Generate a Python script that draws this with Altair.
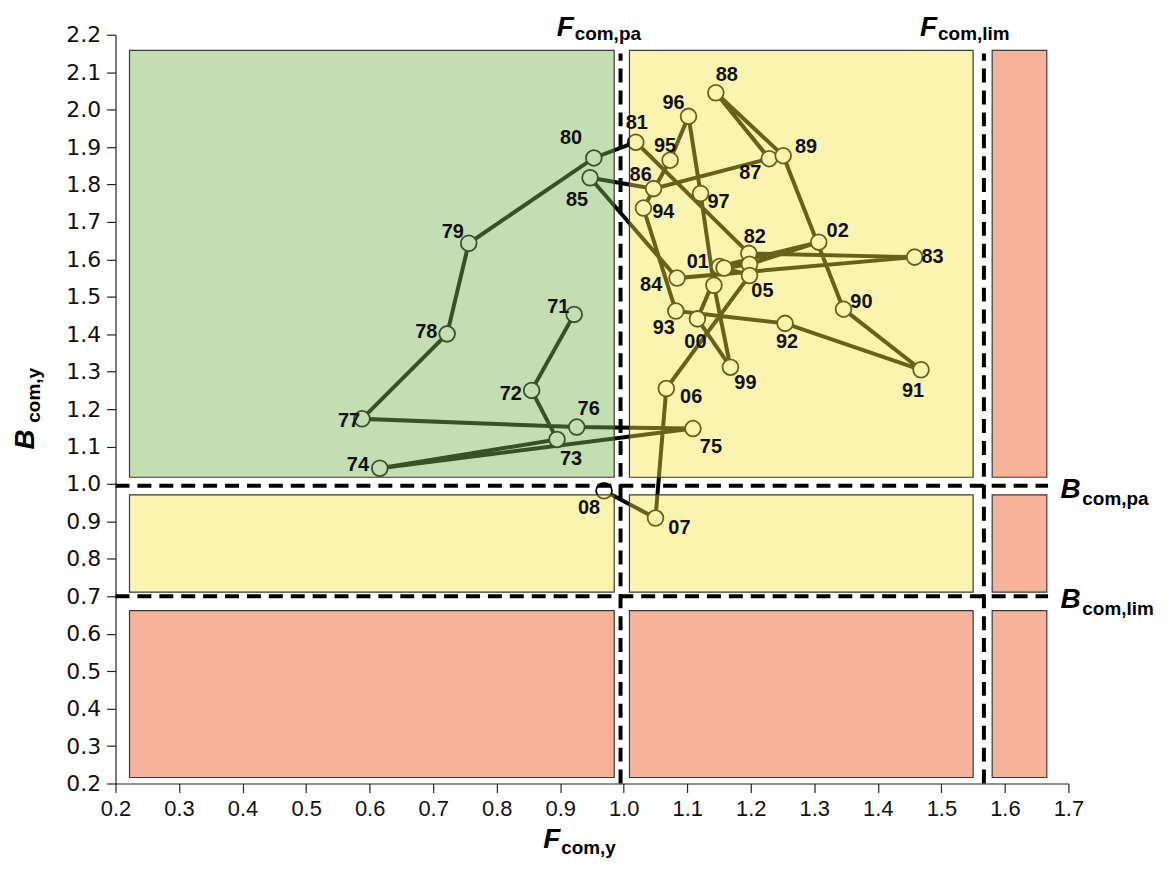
import altair as alt
import pandas as pd

# ---------------- data ----------------
years = ["71", "72", "73", "74", "75", "76", "77", "78", "79", "80",
         "81", "82", "83", "84", "85", "86", "87", "88", "89", "90",
         "91", "92", "93", "94", "95", "96", "97", "98", "99", "00",
         "01", "02", "03", "04", "05", "06", "07", "08"]
shown_label = [y not in ("98", "03", "04") for y in years]
f_com = [0.922, 0.855, 0.895, 0.616, 1.109, 0.926, 0.588, 0.722, 0.756, 0.953,
         1.019, 1.197, 1.458, 1.084, 0.947, 1.047, 1.229, 1.145, 1.251, 1.346,
         1.468, 1.254, 1.082, 1.031, 1.073, 1.102, 1.121, 1.142, 1.168, 1.116,
         1.151, 1.307, 1.198, 1.158, 1.198, 1.067, 1.050, 0.969]
b_com = [1.453, 1.250, 1.119, 1.042, 1.148, 1.152, 1.174, 1.401, 1.643, 1.871,
         1.913, 1.616, 1.606, 1.550, 1.818, 1.789, 1.869, 2.045, 1.877, 1.467,
         1.305, 1.429, 1.462, 1.737, 1.865, 1.982, 1.776, 1.531, 1.312, 1.441,
         1.581, 1.646, 1.587, 1.577, 1.557, 1.255, 0.909, 0.982]
# label placement offsets (pixels) relative to each point
label_dx = [-16, -21, 14, -22, 18, 12, -13, -21, -16, -23,
            1, 6, 18, -26, -13, -13, -19, 11, 23, 18,
            -8, 2, -12, 20, -5, -15, 18, 0, 15, -2,
            -22, 19, 0, 0, 13, 25, 24, -15]
label_dy = [-7, 4, 20, -3, 19, -18, 2, -2, -11, -20,
            -19, -16, 0, 7, 22, -14, 14, -18, -9, -7,
            21, 19, 17, 4, -14, -13, 9, 0, 16, 23,
            -4, -11, 0, 0, 16, 9, 10, 17]

# reference points
F_PA, F_LIM = 0.995, 1.567
B_PA, B_LIM = 0.995, 0.70

# zone rectangles (column and row extents)
col_edges = [(0.222, 0.985), (1.009, 1.550), (1.580, 1.666)]
row_edges = [(1.018, 2.158), (0.711, 0.971), (0.216, 0.662)]
zone_status = [["green", "yellow", "red"],
               ["yellow", "yellow", "red"],
               ["red", "red", "red"]]

x_ticks = [round(0.2 + 0.1 * i, 1) for i in range(16)]
y_ticks = [round(0.2 + 0.1 * i, 1) for i in range(21)]

# ---------------- layout ----------------
W, H = 957, 752
XD = [0.2, 1.7]
YD = [0.2, 2.2]
PX_X = W / (XD[1] - XD[0])
PX_Y = H / (YD[1] - YD[0])
FONT = "Liberation Sans, Arial, Helvetica, sans-serif"
YFONT = "DejaVu Sans, Liberation Sans, Arial, sans-serif"

pts = pd.DataFrame({"i": list(range(len(years))), "year": years,
                    "F": f_com, "B": b_com})
labels = pd.DataFrame({
    "year": [y if s else "" for y, s in zip(years, shown_label)],
    "lx": [f + dx / PX_X for f, dx in zip(f_com, label_dx)],
    "ly": [b - dy / PX_Y for b, dy in zip(b_com, label_dy)],
})

rects = []
for r, (y1, y2) in enumerate(row_edges):
    for c, (x1, x2) in enumerate(col_edges):
        rects.append({"x1": x1, "x2": x2, "y1": y1, "y2": y2,
                      "zone": zone_status[r][c]})
rects = pd.DataFrame(rects)

xs = alt.Scale(domain=XD, nice=False, zero=False)
ys = alt.Scale(domain=YD, nice=False, zero=False)
xaxis = alt.Axis(
    values=x_ticks, format=".1f", title=None, grid=False,
    labelFontSize=22, labelFont=FONT, labelColor="#111",
    tickSize=9, tickColor="#222", tickWidth=1.2,
    domainColor="#222", domainWidth=1.2, labelPadding=6,
    labelFlush=False, labelOverlap=False)
yaxis = alt.Axis(
    values=y_ticks, format=".1f", title=None, grid=False,
    labelFontSize=22, labelFont=YFONT, labelColor="#111",
    tickSize=9, tickColor="#222", tickWidth=1.2,
    domainColor="#222", domainWidth=1.2, labelPadding=6,
    labelFlush=False, labelOverlap=False)


def X(field):
    return alt.X(field, scale=xs, axis=xaxis)


def Y(field):
    return alt.Y(field, scale=ys, axis=yaxis)


line = alt.Chart(pts).mark_line(color="#000000", strokeWidth=4).encode(
    x=X("F:Q"), y=Y("B:Q"), order="i:Q")

points = alt.Chart(pts).mark_point(
    shape="circle", filled=True, fill="#ffffff", stroke="#000000",
    strokeWidth=1.8, size=250, opacity=1).encode(x=X("F:Q"), y=Y("B:Q"))

zone_colors = alt.Scale(domain=["green", "yellow", "red"],
                        range=["#7ab654", "#f5e444", "#ec4000"])
zones = alt.Chart(rects).mark_rect(
    stroke="#3a3a3a", strokeWidth=1.2, strokeOpacity=1).encode(
    x=X("x1:Q"), x2="x2:Q", y=Y("y1:Q"), y2="y2:Q",
    fill=alt.Color("zone:N", scale=zone_colors, legend=None),
    fillOpacity=alt.FillOpacity("zone:N", scale=alt.Scale(
        domain=["green", "yellow", "red"], range=[0.45, 0.40, 0.45]),
        legend=None),
)

vrules = alt.Chart(pd.DataFrame({"x": [F_PA, F_LIM], "y1": [0.2, 0.2],
                                 "y2": [2.15, 2.15]})).mark_rule(
    color="#000000", strokeWidth=4, strokeDash=[14, 8]).encode(
    x=X("x:Q"), y=Y("y1:Q"), y2="y2:Q")

hrules = alt.Chart(pd.DataFrame({"y": [B_PA, B_LIM], "x1": [0.2, 0.2],
                                 "x2": [1.668, 1.668]})).mark_rule(
    color="#000000", strokeWidth=4, strokeDash=[14, 8]).encode(
    y=Y("y:Q"), x=X("x1:Q"), x2="x2:Q")

year_text = alt.Chart(labels).mark_text(
    font=FONT, fontSize=20, fontWeight="bold", color="#111111",
    align="center", baseline="middle").encode(
    x=X("lx:Q"), y=Y("ly:Q"), text="year:N")

# ---- annotation texts: big letter + subscript ----
ann_big = []
ann_sub = []
for thr, sub in [(F_PA, "com,pa"), (F_LIM, "com,lim")]:
    ann_big.append({"x": thr - 47 / PX_X, "y": 2.2 - 1 / PX_Y, "t": "F",
                    "align": "right"})
    ann_sub.append({"x": thr - 46 / PX_X, "y": 2.2 - 5 / PX_Y, "t": sub})
for thr, sub in [(B_PA, "com,pa"), (B_LIM, "com,lim")]:
    ann_big.append({"x": 1.7 - 8 / PX_X, "y": thr - 12 / PX_Y, "t": "B",
                    "align": "left"})
    ann_sub.append({"x": 1.7 + 14 / PX_X, "y": thr - 19 / PX_Y, "t": sub})
# x-axis title
ann_big.append({"x": 0.9, "y": 0.2 - 65 / PX_Y, "t": "F", "align": "right"})
ann_sub.append({"x": 0.9 + 1 / PX_X, "y": 0.2 - 71 / PX_Y, "t": "com,y"})
big_df = pd.DataFrame(ann_big)
sub_df = pd.DataFrame(ann_sub)

big_text_l = alt.Chart(big_df).mark_text(
    font=FONT, fontSize=28, fontWeight="bold", fontStyle="italic",
    color="#000000", baseline="alphabetic", align="left").encode(
    x=X("x:Q"), y=Y("y:Q"), text="t:N").transform_filter(
    "datum.align == 'left'")
big_text_r = alt.Chart(big_df).mark_text(
    font=FONT, fontSize=28, fontWeight="bold", fontStyle="italic",
    color="#000000", baseline="alphabetic", align="right").encode(
    x=X("x:Q"), y=Y("y:Q"), text="t:N").transform_filter(
    "datum.align == 'right'")
sub_text = alt.Chart(sub_df).mark_text(
    font=FONT, fontSize=19, fontWeight="bold", color="#000000",
    baseline="alphabetic", align="left").encode(
    x=X("x:Q"), y=Y("y:Q"), text="t:N")

# y-axis title (rotated)
ytitle_big = pd.DataFrame({"x": [0.2 - 82 / PX_X], "y": [1.1 - 3 / PX_Y],
                           "t": ["B"]})
ytitle_sub = pd.DataFrame({"x": [0.2 - 76 / PX_X], "y": [1.1 + 24 / PX_Y],
                           "t": ["com,y"]})
yt_big = alt.Chart(ytitle_big).mark_text(
    font=FONT, fontSize=28, fontWeight="bold", fontStyle="italic",
    color="#000000", baseline="alphabetic", align="left", angle=270).encode(
    x=X("x:Q"), y=Y("y:Q"), text="t:N")
yt_sub = alt.Chart(ytitle_sub).mark_text(
    font=FONT, fontSize=19, fontWeight="bold", color="#000000",
    baseline="alphabetic", align="left", angle=270).encode(
    x=X("x:Q"), y=Y("y:Q"), text="t:N")

chart = alt.layer(
    line, points, zones, vrules, hrules, year_text,
    big_text_l, big_text_r, sub_text, yt_big, yt_sub,
).properties(
    width=W, height=H,
    autosize=alt.AutoSizeParams(type="none"),
    padding={"left": 108, "top": 25, "right": 92, "bottom": 78},
    background="#ffffff",
).configure_view(stroke=None)

chart.save("out.html", embed_options={"renderer": "svg", "actions": False})
